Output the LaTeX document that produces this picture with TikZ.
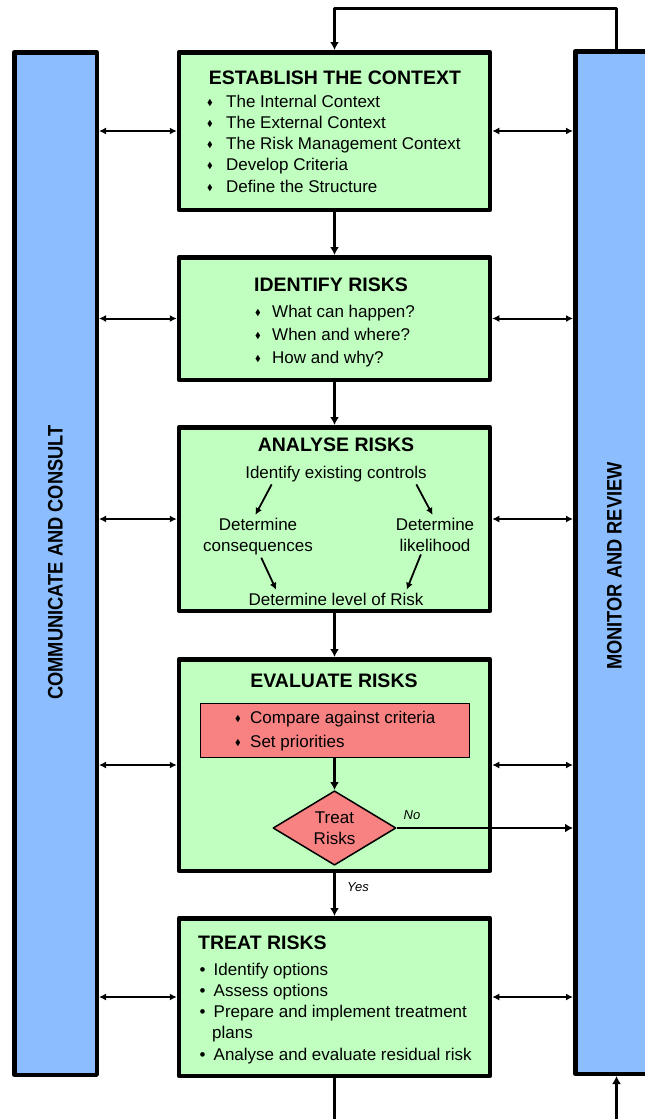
\documentclass[tikz,border=0pt]{standalone}
\usepackage{amssymb}
\usepackage{fontspec}
\setmainfont{Liberation Sans}
\usetikzlibrary{arrows.meta,shapes.geometric}

\definecolor{boxgreen}{RGB}{192,255,192}
\definecolor{barblue}{RGB}{140,190,255}
\definecolor{alertred}{RGB}{248,130,130}

% bullets: small diamond and round dot
\newcommand{\dmd}[1]{\makebox[#1][l]{\raisebox{2pt}{\scalebox{0.5}{$\blacklozenge$}}}}
\newcommand{\rdot}{\makebox[14pt][l]{\textbullet}}

\tikzset{
	stage/.style={draw, line width=4.5pt, fill=boxgreen, minimum width=311pt, inner sep=0pt},
	sidebar/.style={draw, line width=4.5pt, fill=barblue, minimum width=82.5pt, minimum height=1022.5pt, inner sep=0pt},
	ttl/.style={inner sep=0pt, font=\fontsize{19.5}{23}\selectfont\bfseries},
	vtxt/.style={inner sep=0pt, rotate=90, font=\fontsize{21}{24}\selectfont\bfseries},
	txt/.style={inner sep=0pt, font=\fontsize{17}{21.25}\selectfont},
	lbl/.style={inner sep=0pt, font=\fontsize{13}{15}\selectfont\itshape},
	flow/.style={line width=3pt, -{Latex[length=8pt,width=9pt]}},
	dbl/.style={line width=2pt, {Latex[length=7pt,width=7pt]}-{Latex[length=7pt,width=7pt]}},
	sub/.style={line width=1.8pt, shorten <=3pt, shorten >=3pt, -{Latex[length=7pt,width=7pt]}},
}

\begin{document}
\begin{tikzpicture}[x=1pt, y=-1pt, line join=round]
	\useasboundingbox (0,0) rectangle (645,1119);
	
	% --- Cot xanh hai ben ---
	\node[sidebar] (comm) at (55.5,563.5) {};
	\node[sidebar] (mon) at (616.5,562.5) {};
	\node[vtxt] (commtxt) at (55.5,562.5) {\scalebox{0.87}[1]{COMMUNICATE AND CONSULT}};
	\node[vtxt] (montxt) at (614.5,566) {\scalebox{0.87}[1]{MONITOR AND REVIEW}};
	
	% --- Cac buoc chinh ---
	\node[stage, minimum height=157.5pt] (ctx) at (334.5,131) {};
	\node[stage, minimum height=122.5pt] (idf) at (334.5,318.5) {};
	\node[stage, minimum height=183.5pt] (ana) at (334.5,519) {};
	\node[stage, minimum height=211.5pt] (eva) at (334.5,765) {};
	\node[stage, minimum height=157.5pt] (trt) at (334.5,997) {};
	
	% Buoc 1
	\node[ttl] (ctxttl) at (335,78) {ESTABLISH THE CONTEXT};
	\node[txt, anchor=north west, align=left] (ctxlist) at (207,94.5) {\dmd{19pt}The Internal Context\\ \dmd{19pt}The External Context\\ \dmd{19pt}The Risk Management Context\\ \dmd{19pt}Develop Criteria\\ \dmd{19pt}Define the Structure};
	
	% Buoc 2
	\node[ttl] (idfttl) at (331,285) {IDENTIFY RISKS};
	\node[txt, anchor=north west, align=left, font=\fontsize{17}{23}\selectfont] (idflist) at (255,304.5) {\dmd{17pt}What can happen?\\ \dmd{17pt}When and where?\\ \dmd{17pt}How and why?};
	
	% Buoc 3
	\node[ttl] (anattl) at (336,445) {ANALYSE RISKS};
	\node[txt, anchor=base] (ctrl) at (336,478) {Identify existing controls};
	\node[txt, anchor=north, align=center] (cons) at (258,517.5) {Determine\\consequences};
	\node[txt, anchor=north, align=center] (lik) at (435,517.5) {Determine\\likelihood};
	\node[txt, anchor=base] (level) at (336,605) {Determine level of Risk};
	\draw[sub] ([xshift=28pt]ctrl.south west) -- ([xshift=-4pt]cons.north);
	\draw[sub] ([xshift=-12pt]ctrl.south east) -- ([xshift=-1pt]lik.north);
	\draw[sub] ([xshift=2pt]cons.south) -- ([xshift=29pt]level.north west);
	\draw[sub] ([xshift=-13pt]lik.south) -- ([xshift=-18pt]level.north east);
	
	% Buoc 4
	\node[ttl] (evattl) at (334,681) {EVALUATE RISKS};
	\node[draw, line width=1pt, fill=alertred, minimum width=269pt, minimum height=54pt, inner sep=0pt] (cmp) at (334.5,730) {};
	\node[txt, anchor=north west, align=left, font=\fontsize{17}{24}\selectfont] (cmplist) at (235,710.5) {\dmd{15pt}Compare against criteria\\ \dmd{15pt}Set priorities};
	\node[draw, line width=1.5pt, fill=alertred, shape=diamond, minimum width=123pt, minimum height=70pt, inner sep=0pt, align=center, font=\fontsize{17}{21}\selectfont] (treat) at (334.5,828) {Treat\\Risks};
	\draw[flow] (cmp) -- (treat);
	\draw[flow, line width=2pt] (treat.east) -- (treat.east -| mon.west);
	\node[lbl] (no) at (412,815) {No};
	
	% Buoc 5
	\node[ttl, anchor=west] (trtttl) at (198,943) {TREAT RISKS};
	\node[txt, anchor=north west, align=left] (trtlist) at (199.5,962.5) {\rdot Identify options\\ \rdot Assess options\\ \rdot Prepare and implement treatment\\ \hspace*{12.5pt}plans\\ \rdot Analyse and evaluate residual risk};
	
	% --- Mui ten giua cac buoc ---
	\draw[flow] (ctx) -- (idf);
	\draw[flow] (idf) -- (ana);
	\draw[flow] (ana) -- (eva);
	\draw[flow] (eva) -- (trt);
	\node[lbl] (yes) at (358,887) {Yes};
	
	% --- Vong phan hoi ---
	\coordinate (fbtop) at (334.5,8);
	\coordinate (outL) at (334.5,1125);
	\coordinate (outR) at (616.5,1125);
	\draw[flow] (mon.north) |- (fbtop) -- (ctx.north);
	\draw[line width=3pt] (trt) -- (outL);
	\draw[flow] (outR) -- (mon);
	
	% --- Mui ten hai chieu ---
	\draw[dbl] (comm.east |- ctx) -- (ctx);
	\draw[dbl] (ctx) -- (ctx -| mon.west);
	\draw[dbl] (comm.east |- idf) -- (idf);
	\draw[dbl] (idf) -- (idf -| mon.west);
	\draw[dbl] (comm.east |- ana) -- (ana);
	\draw[dbl] (ana) -- (ana -| mon.west);
	\draw[dbl] (comm.east |- eva) -- (eva);
	\draw[dbl] (eva) -- (eva -| mon.west);
	\draw[dbl] (comm.east |- trt) -- (trt);
	\draw[dbl] (trt) -- (trt -| mon.west);
\end{tikzpicture}
\end{document}
